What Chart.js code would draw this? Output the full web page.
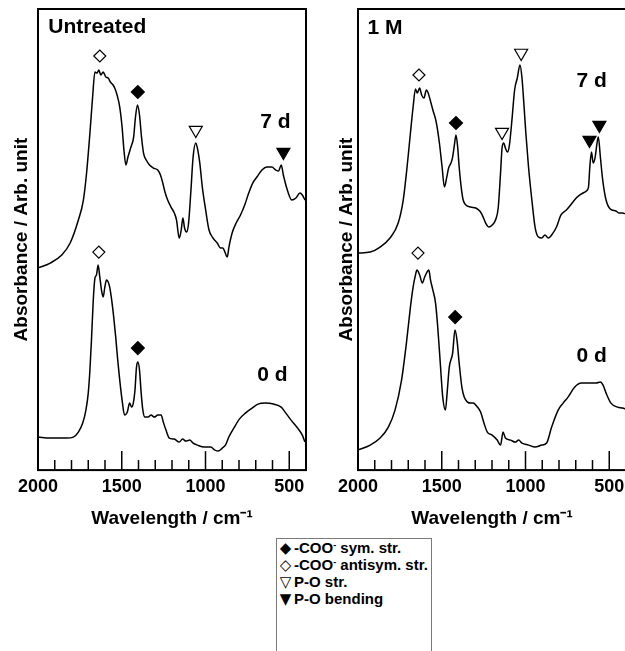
<!DOCTYPE html>
<html>
<head>
<meta charset="utf-8">
<script src="https://cdn.jsdelivr.net/npm/chart.js@4.4.1/dist/chart.umd.min.js"></script>
<style>
  html, body { margin: 0; padding: 0; background: #fff; overflow: hidden; width: 625px; height: 651px; }
  #untreated { position: absolute; left: 0; top: 0; }
  #oneM { position: absolute; left: 320px; top: 0; }
  #legend {
    position: absolute; left: 276px; top: 538px; width: 156px; height: 130px;
    border: 1px solid #7a7a7a; box-sizing: border-box; padding-top: 0px;
    font: bold 15px "Liberation Sans", Arial, sans-serif; color: #000;
  }
  #legend div { height: 17px; line-height: 17px; white-space: nowrap; }
  #legend .s { display: inline-block; width: 17px; text-align: center; font-family: "DejaVu Sans", sans-serif; font-size: 15px; }
  #legend sup { font-size: 9px; vertical-align: 5px; line-height: 0; }
</style>
</head>
<body>
<canvas id="untreated" width="312" height="535"></canvas>
<canvas id="oneM" width="312" height="535"></canvas>
<div id="legend">
  <div><span class="s">&#9670;</span>-COO<sup>-</sup> sym. str.</div>
  <div><span class="s">&#9671;</span>-COO<sup>-</sup> antisym. str.</div>
  <div><span class="s">&#9661;</span>P-O str.</div>
  <div><span class="s">&#9660;</span>P-O bending</div>
</div>
<script>
// ---- data (wavenumber in cm-1, absorbance in arb. units) ----
const untreated7dWn = [2000,1927,1858,1808,1759,1729,1710,1690,1674,1660,1647,1637,1625,1611,1595,1581,1568,1552,1542,1528,1512,1498,1487,1475,1463,1447,1429,1418,1406,1394,1382,1370,1354,1334,1311,1285,1269,1255,1242,1226,1206,1186,1173,1157,1145,1135,1125,1113,1101,1088,1074,1058,1046,1034,1019,999,979,955,930,910,896,884,870,860,841,817,791,766,742,718,693,663,634,604,580,564,548,535,515,485,460,436,422,406];
const untreated7dAbs = [2.02,2.07,2.15,2.27,2.50,2.70,2.97,3.37,3.73,3.98,3.97,4.00,3.95,3.98,3.93,3.92,3.88,3.85,3.82,3.75,3.63,3.43,3.20,3.05,3.13,3.22,3.33,3.53,3.65,3.55,3.33,3.17,3.10,3.05,3.02,3.00,2.95,2.87,2.78,2.70,2.63,2.57,2.50,2.32,2.40,2.52,2.42,2.38,2.47,2.77,3.13,3.27,3.20,3.07,2.83,2.60,2.40,2.32,2.27,2.22,2.22,2.18,2.13,2.23,2.37,2.47,2.55,2.65,2.77,2.87,2.93,3.00,3.03,3.03,3.00,2.99,3.05,2.95,2.82,2.70,2.72,2.77,2.75,2.70];

const untreated0dWn = [2000,1927,1828,1789,1759,1733,1714,1700,1690,1680,1670,1660,1651,1641,1631,1621,1611,1601,1591,1581,1572,1560,1548,1536,1524,1512,1498,1483,1467,1453,1441,1431,1421,1412,1404,1394,1384,1374,1362,1342,1325,1305,1285,1265,1252,1236,1216,1186,1157,1137,1117,1094,1074,1048,1009,969,944,924,900,881,861,831,798,762,722,687,643,594,548,525,489,450,422,406];
const untreated0dAbs = [0.33,0.32,0.32,0.33,0.38,0.47,0.60,0.77,1.00,1.33,1.70,1.92,1.95,2.05,1.93,1.80,1.73,1.83,1.90,1.88,1.83,1.70,1.53,1.33,1.10,0.90,0.70,0.55,0.58,0.67,0.63,0.67,0.80,1.03,1.08,1.00,0.77,0.60,0.53,0.53,0.55,0.53,0.55,0.55,0.48,0.40,0.32,0.31,0.28,0.31,0.29,0.30,0.27,0.25,0.23,0.23,0.20,0.19,0.22,0.25,0.33,0.42,0.51,0.57,0.62,0.66,0.67,0.66,0.63,0.58,0.50,0.42,0.35,0.28];

const oneM7dWn = [2000,1927,1868,1809,1760,1730,1707,1687,1671,1657,1646,1632,1620,1606,1592,1581,1569,1553,1533,1514,1498,1484,1470,1459,1445,1435,1423,1415,1405,1396,1384,1372,1356,1327,1297,1273,1258,1238,1218,1199,1179,1163,1149,1140,1130,1120,1108,1096,1081,1065,1049,1033,1021,1010,998,982,962,943,923,903,884,864,844,815,789,756,726,697,667,637,624,616,606,596,584,573,565,553,539,519,494,460,441,421,400];
const oneM7dAbs = [2.17,2.18,2.23,2.32,2.47,2.70,3.03,3.37,3.63,3.81,3.77,3.82,3.75,3.72,3.80,3.77,3.70,3.60,3.48,3.27,3.03,2.83,2.93,3.02,3.07,3.13,3.27,3.35,3.23,3.03,2.83,2.70,2.65,2.63,2.62,2.59,2.55,2.47,2.43,2.45,2.50,2.62,2.97,3.22,3.27,3.22,3.18,3.25,3.50,3.80,3.92,4.05,3.92,3.67,3.37,3.03,2.70,2.43,2.33,2.32,2.35,2.32,2.35,2.43,2.55,2.60,2.66,2.72,2.76,2.79,2.83,3.03,3.18,3.07,3.13,3.27,3.33,3.13,2.90,2.70,2.61,2.59,2.57,2.57,2.56];

const oneM0dWn = [2000,1927,1868,1819,1779,1740,1711,1687,1671,1657,1648,1632,1616,1602,1588,1577,1567,1553,1537,1524,1510,1494,1478,1468,1455,1435,1421,1409,1396,1380,1366,1346,1327,1313,1287,1268,1248,1228,1199,1169,1149,1134,1120,1090,1061,1041,1021,982,943,903,874,844,805,775,746,706,667,618,578,553,537,519,490,451,421,400];
const oneM0dAbs = [0.20,0.25,0.32,0.43,0.60,0.90,1.27,1.63,1.83,1.95,2.00,1.95,1.87,1.93,1.98,2.00,1.90,1.80,1.67,1.43,1.10,0.73,0.60,0.77,1.03,1.17,1.40,1.30,1.07,0.83,0.73,0.68,0.67,0.67,0.63,0.58,0.47,0.38,0.35,0.30,0.25,0.38,0.32,0.30,0.28,0.30,0.27,0.25,0.23,0.25,0.27,0.43,0.60,0.67,0.73,0.83,0.87,0.87,0.87,0.88,0.85,0.77,0.67,0.63,0.62,0.61];

// band assignments marked above the peaks
const untreatedMarkType = ['anti','sym','str','bend','anti','sym'];
const untreatedMarkWn   = [1631, 1404, 1058, 535, 1637, 1404];
const untreatedMarkAbs  = [4.14, 3.78, 3.40, 3.18, 2.18, 1.22];

const oneMMarkType = ['anti','sym','str','str','bend','bend','anti','sym'];
const oneMMarkWn   = [1636, 1415, 1140, 1026, 618, 559, 1642, 1420];
const oneMMarkAbs  = [3.95, 3.47, 3.38, 4.17, 3.30, 3.45, 2.17, 1.53];

const untreatedText    = ['Untreated', '7 d', '0 d'];
const untreatedTextWn  = [1646, 582, 600];
const untreatedTextAbs = [4.43, 3.48, 0.95];

const oneMText    = ['1 M', '7 d', '0 d'];
const oneMTextWn  = [1839, 605, 605];
const oneMTextAbs = [4.42, 3.89, 1.14];

const xTickLabels = [2000, 1500, 1000, 500];

// ---- drawing ----
const FONT = '"Liberation Sans", Arial, Helvetica, sans-serif';

const markStyle = {
  sym:  { pointStyle: 'rectRot',  rotation: 0,   fill: '#000', radius: 6.5 },
  anti: { pointStyle: 'rectRot',  rotation: 0,   fill: '#fff', radius: 6 },
  str:  { pointStyle: 'triangle', rotation: 180, fill: '#fff', radius: 7.5 },
  bend: { pointStyle: 'triangle', rotation: 180, fill: '#000', radius: 7.5 },
};

function zip(wn, abs) {
  return wn.map((w, i) => ({ x: w, y: abs[i] }));
}

const frameAndText = {
  id: 'frameAndText',
  afterDraw(chart, args, opts) {
    const { ctx, chartArea: a, scales: { x, y } } = chart;
    ctx.save();
    ctx.strokeStyle = '#000';
    // ticks point into the plot
    ctx.lineWidth = 1.5;
    x.ticks.forEach(t => {
      const px = x.getPixelForValue(t.value);
      const len = t.value % 500 === 0 ? 19 : 10;
      ctx.beginPath();
      ctx.moveTo(px, a.bottom);
      ctx.lineTo(px, a.bottom - len);
      ctx.stroke();
    });
    ctx.lineWidth = 2;
    ctx.strokeRect(a.left, a.top, a.right - a.left, a.bottom - a.top);

    ctx.fillStyle = '#000';
    ctx.font = 'bold 21px ' + FONT;
    ctx.textAlign = 'center';
    ctx.textBaseline = 'middle';
    opts.text.forEach((s, i) => {
      ctx.fillText(s, x.getPixelForValue(opts.wn[i]), y.getPixelForValue(opts.abs[i]));
    });
    ctx.restore();
  }
};

function makePanel(id, curves, markType, markWn, markAbs, text, textWn, textAbs, titlePad) {
  const datasets = curves.map(c => ({
    data: zip(c[0], c[1]),
    borderColor: '#000',
    borderWidth: 1.5,
    pointRadius: 0,
    cubicInterpolationMode: 'monotone',
    fill: false,
  }));

  Object.keys(markStyle).forEach(type => {
    const st = markStyle[type];
    const pts = [];
    markType.forEach((t, i) => { if (t === type) pts.push({ x: markWn[i], y: markAbs[i] }); });
    if (!pts.length) return;
    datasets.push({
      data: pts,
      showLine: false,
      pointStyle: st.pointStyle,
      rotation: st.rotation,
      pointRadius: st.radius,
      pointBackgroundColor: st.fill,
      pointBorderColor: '#000',
      pointBorderWidth: 1.2,
    });
  });

  return new Chart(document.getElementById(id), {
    type: 'line',
    data: { datasets },
    options: {
      responsive: false,
      animation: false,
      events: [],
      layout: { autoPadding: false, padding: { top: 9, right: 4, bottom: 5.2, left: 0 } },
      plugins: {
        legend: { display: false },
        tooltip: { enabled: false },
        frameAndText: { text, wn: textWn, abs: textAbs },
      },
      scales: {
        x: {
          type: 'linear',
          reverse: true,
          min: 400,
          max: 2000,
          grid: { display: false, drawTicks: false },
          border: { display: false },
          ticks: {
            stepSize: 100,
            autoSkip: false,
            maxRotation: 0,
            padding: 6,
            color: '#000',
            font: { family: FONT, size: 18, weight: 'bold' },
            callback: v => xTickLabels.includes(v) ? String(v) : '',
          },
          title: {
            display: true,
            text: 'Wavelength / cm\u207B\u00B9',
            color: '#000',
            font: { family: FONT, size: 19, weight: 'bold' },
            padding: { top: 3.3, bottom: 0 },
          },
        },
        y: {
          min: 0,
          max: 4.61,
          grid: { display: false, drawTicks: false },
          border: { display: false },
          ticks: { display: false },
          title: {
            display: true,
            text: 'Absorbance / Arb. unit',
            color: '#000',
            font: { family: FONT, size: 19, weight: 'bold' },
            padding: titlePad,
          },
        },
      },
    },
    plugins: [frameAndText],
  });
}

makePanel('untreated',
  [[untreated7dWn, untreated7dAbs], [untreated0dWn, untreated0dAbs]],
  untreatedMarkType, untreatedMarkWn, untreatedMarkAbs,
  untreatedText, untreatedTextWn, untreatedTextAbs,
  { top: 10.6, bottom: 4.6 });

makePanel('oneM',
  [[oneM7dWn, oneM7dAbs], [oneM0dWn, oneM0dAbs]],
  oneMMarkType, oneMMarkWn, oneMMarkAbs,
  oneMText, oneMTextWn, oneMTextAbs,
  { top: 15.1, bottom: 0.1 });
</script>
</body>
</html>
